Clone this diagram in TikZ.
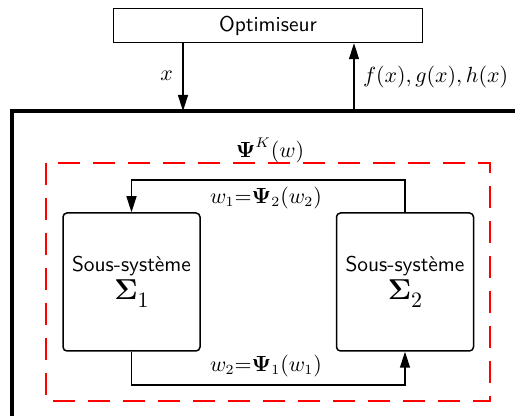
\documentclass[tikz,border=0pt]{standalone}
\usepackage{amsmath,bm}
\usepackage{fontspec}
\usetikzlibrary{arrows.meta}
\begin{document}
\begin{tikzpicture}[x=0.5pt,y=-0.5pt,
  every node/.style={font=\fontsize{10.7}{13}\selectfont\sffamily},
  optbox/.style={draw,line width=0.75pt,minimum width=154.5pt,minimum height=17pt,inner sep=0pt},
  subbox/.style={draw,line width=0.75pt,rounded corners=2pt,minimum width=68.5pt,minimum height=69pt,inner sep=0pt,align=center},
  arr/.style={line width=0.75pt,-{Triangle[length=8pt,width=5pt]}},
  wire/.style={line width=0.75pt},
  thickline/.style={line width=1.6pt,line join=miter},
  reddash/.style={draw=red,line width=0.6pt,dash pattern=on 11pt off 6.5pt}
]
\useasboundingbox (0,0) rectangle (515,416);
% optimiser
\node[optbox] (opt) at (268,25.5) {Optimiseur};
% thick system frame
\coordinate (corner) at (12,111);
\coordinate (lowleft) at (12,418);
\coordinate (rightend) at (517,111);
\draw[thickline] (lowleft) -- (corner) -- (rightend);
\coordinate (xin) at (183,111);
\coordinate (fout) at (354,111);
\draw[arr] (opt.south -| xin) -- (xin);
\draw[arr] (fout) -- (opt.south -| fout);
\node[anchor=east] (xlab) at (180,76) {$x$};
\node[anchor=west] (flab) at (356,77) {$f(x),g(x),h(x)$};
% red dashed region
\draw[reddash] (46,163) rectangle (490,401);
\node (psik) at (270,150) {$\bm{\Psi}^{K}(w)$};
% subsystems
\node[subbox] (s1) at (131.5,282) {Sous-système\\[1pt]{\Large$\bm{\Sigma}$}\raisebox{-4pt}{$1$}};
\node[subbox] (s2) at (405,282) {Sous-système\\[1pt]{\Large$\bm{\Sigma}$}\raisebox{-4pt}{$2$}};
% couplings
\coordinate (toprow) at (0,180);
\coordinate (botrow) at (0,385);
\draw[arr] (s2.north) -- (s2.north |- toprow) -- (s1.north |- toprow) -- (s1.north);
\draw[arr] (s1.south) -- (s1.south |- botrow) -- (s2.south |- botrow) -- (s2.south);
\node (l1) at (266,198) {$w_{1}{=}\bm{\Psi}_{2}(w_{2})$};
\node (l2) at (266,366) {$w_{2}{=}\bm{\Psi}_{1}(w_{1})$};
\end{tikzpicture}
\end{document}
